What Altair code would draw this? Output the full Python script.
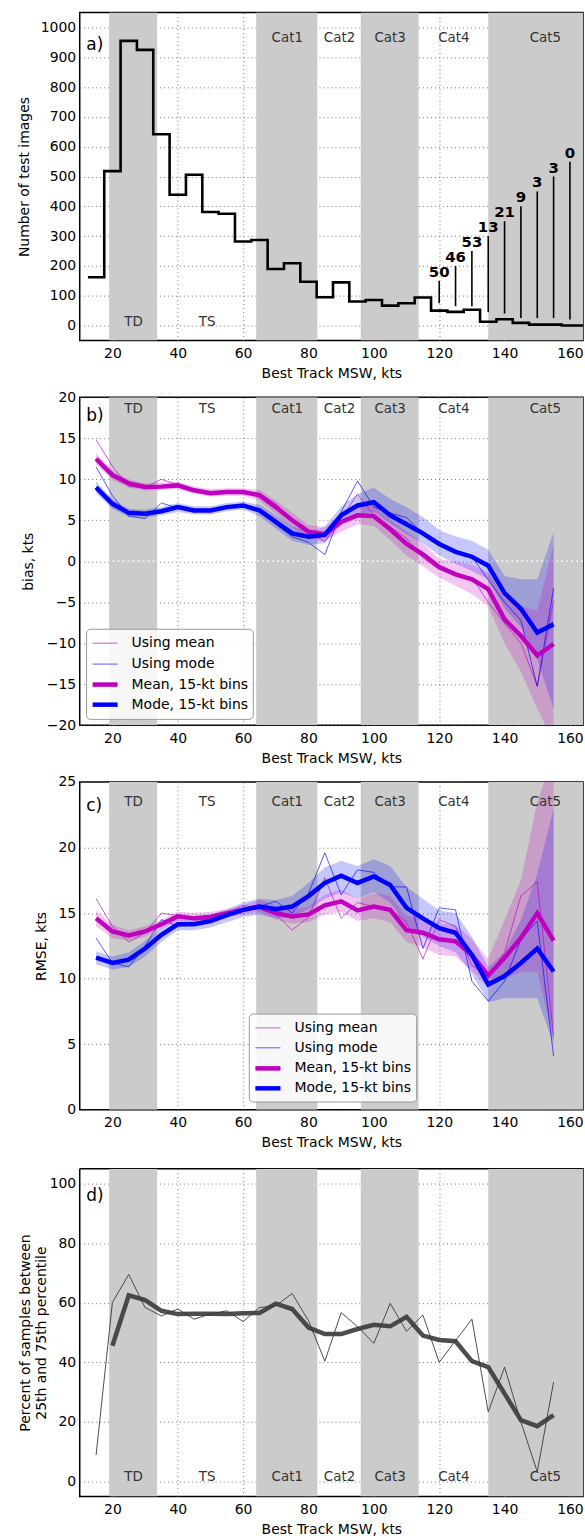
import altair as alt
import pandas as pd

FONT = "DejaVu Sans"
MAG = "#bf00bf"
BLUE = "#0000ff"
GRAY_BAND = "#cbcbcb"
DARK = "#3a3a3a"

W, H = 505, 329
X_DOMAIN = [10, 164]
X_TICKS = [20, 40, 60, 80, 100, 120, 140, 160]

# Saffir-Simpson category shading (kt)
band_lo = [19, 64, 96, 135]
band_hi = [33.7, 82.7, 113.7, 170]
cat_labels = ["TD", "TS", "Cat1", "Cat2", "Cat3", "Cat4", "Cat5"]
cat_centers = [26.5, 49, 73.5, 89.5, 105, 124.5, 152.5]

# ---- panel a: histogram of test images ----
hist_centers = [15, 20, 25, 30, 35, 40, 45, 50, 55, 60, 65, 70, 75, 80, 85, 90,
                95, 100, 105, 110, 115, 120, 125, 130, 135, 140, 145, 150, 155, 160, 165]
hist_counts = [162, 518, 955, 925, 642, 439, 506, 381, 375, 282, 287, 190, 209, 147, 95, 145,
               81, 86, 67, 75, 94, 50, 46, 53, 13, 21, 9, 3, 3, 0, 0]
ann_x = [120, 125, 130, 135, 140, 145, 150, 155, 160]
ann_lo = [75, 65, 65, 45, 40, 25, 25, 25, 20]
ann_hi = [150, 200, 250, 300, 350, 400, 450, 500, 550]
ann_text = ["50", "46", "53", "13", "21", "9", "3", "3", "0"]

# ---- panels b, c, d: x positions ----
msw = [15, 20, 25, 30, 35, 40, 45, 50, 55, 60, 65, 70, 75, 80, 85, 90, 95, 100,
       105, 110, 115, 120, 125, 130, 135, 140, 145, 150, 155]

# panel b: bias
bias_mean_thin = [14.8, 11.6, 9.1, 9.0, 10.0, 9.3, 8.6, 8.3, 8.5, 8.4, 8.3, 7.0, 5.0, 3.4, 2.4,
                  5.2, 8.2, 5.6, 4.2, 2.8, 0.4, -1.0, -1.6, -2.0, -5.0, -7.6, -10.0, -15.2, -4.8]
bias_mode_thin = [11.5, 8.0, 5.5, 5.2, 7.1, 6.5, 6.0, 6.3, 6.5, 6.7, 6.3, 4.5, 3.0, 2.3, 0.8,
                  6.0, 9.8, 6.6, 5.9, 5.3, 3.4, 2.3, 1.0, 0.6, -2.3, -5.0, -7.2, -15.3, -3.3]
bias_mean_bin = [12.5, 10.5, 9.5, 9.05, 9.1, 9.25, 8.65, 8.3, 8.45, 8.45, 8.05, 6.6, 5.0, 3.6, 3.3,
                 4.8, 5.6, 5.5, 3.9, 2.1, 0.85, -0.7, -1.6, -2.2, -3.4, -7.1, -9.1, -11.5, -10.1]
bias_mode_bin = [9.0, 7.0, 5.9, 5.8, 6.1, 6.6, 6.2, 6.2, 6.6, 6.8, 6.2, 4.8, 3.4, 3.0, 3.2,
                 5.6, 6.8, 7.2, 5.6, 4.5, 3.4, 2.1, 1.15, 0.55, -0.55, -3.9, -5.8, -8.7, -7.7]
bias_mean_lo = [11.8, 9.9, 9.0, 8.6, 8.7, 8.8, 8.2, 7.9, 8.0, 8.0, 7.4, 5.8, 4.1, 2.8, 2.4,
                3.6, 4.5, 4.3, 2.6, 0.7, -0.6, -2.0, -3.0, -4.0, -5.5, -10.0, -13.5, -18.0, -22.0]
bias_mean_hi = [13.2, 11.1, 10.0, 9.5, 9.6, 9.7, 9.1, 8.8, 8.9, 8.9, 8.7, 7.4, 5.9, 4.4, 4.2,
                5.6, 6.8, 6.8, 5.1, 3.6, 2.2, 0.3, -0.1, -0.4, -1.4, -4.5, -5.5, -6.0, 2.0]
bias_mode_lo = [8.3, 6.4, 5.4, 5.3, 5.6, 6.0, 5.7, 5.7, 6.1, 6.3, 5.5, 4.0, 2.5, 2.0, 2.2,
                4.5, 5.5, 6.0, 4.6, 3.3, 2.2, 0.7, -0.3, -1.2, -2.2, -5.7, -8.0, -12.0, -18.0]
bias_mode_hi = [9.7, 7.6, 6.4, 6.3, 6.6, 7.1, 6.7, 6.7, 7.1, 7.3, 6.9, 5.6, 4.3, 3.6, 4.2,
                6.7, 8.2, 9.0, 7.6, 6.6, 5.4, 3.8, 3.0, 2.5, 1.4, -1.8, -2.2, -2.2, 3.5]

# panel c: RMSE
rmse_mean_thin = [16.1, 14.0, 12.8, 13.5, 15.0, 14.8, 14.5, 14.6, 15.0, 15.6, 15.3, 14.9, 13.7, 14.7, 17.7,
                  14.6, 15.8, 15.5, 15.3, 14.3, 11.5, 14.5, 14.0, 11.0, 10.2, 12.0, 16.3, 17.4, 5.6]
rmse_mode_thin = [13.1, 11.2, 10.9, 12.5, 14.5, 14.0, 14.2, 14.4, 14.8, 15.2, 15.5, 15.9, 15.0, 16.5, 19.6,
                  16.4, 18.3, 18.1, 17.0, 17.0, 12.3, 15.4, 15.25, 9.8, 8.3, 9.8, 13.0, 14.4, 4.1]
rmse_mean_bin = [14.6, 13.6, 13.3, 13.6, 14.15, 14.75, 14.6, 14.7, 15.0, 15.25, 15.5, 15.0, 14.75, 14.9, 15.6,
                 15.9, 15.2, 15.5, 15.25, 13.7, 13.5, 13.0, 12.85, 11.8, 10.25, 11.6, 13.1, 15.0, 12.9]
rmse_mode_bin = [11.6, 11.2, 11.45, 12.3, 13.35, 14.15, 14.15, 14.4, 14.85, 15.25, 15.5, 15.3, 15.5, 16.3, 17.3,
                 17.85, 17.3, 17.8, 17.15, 15.4, 14.6, 13.85, 13.5, 11.8, 9.55, 10.2, 11.2, 12.3, 10.55]
rmse_mean_lo = [14.0, 13.1, 12.9, 13.2, 13.8, 14.4, 14.3, 14.4, 14.7, 14.9, 15.1, 14.5, 14.2, 14.3, 14.9,
                15.1, 14.4, 14.6, 14.3, 12.8, 12.4, 11.8, 11.7, 10.6, 9.3, 10.0, 10.5, 10.5, 5.5]
rmse_mean_hi = [15.2, 14.1, 13.7, 14.0, 14.5, 15.1, 15.0, 15.1, 15.3, 15.6, 16.0, 15.6, 15.3, 15.5, 16.4,
                16.8, 16.1, 16.5, 16.3, 14.8, 14.6, 14.2, 14.1, 13.0, 11.5, 14.5, 17.5, 23.5, 27.0]
rmse_mode_lo = [11.1, 10.7, 10.9, 11.7, 12.8, 13.7, 13.7, 13.9, 14.3, 14.7, 14.9, 14.6, 14.7, 15.3, 16.1,
                16.6, 16.1, 16.6, 15.8, 14.0, 13.2, 12.5, 12.0, 10.4, 8.2, 8.5, 8.5, 8.5, 5.0]
rmse_mode_hi = [12.1, 11.7, 12.0, 12.9, 13.9, 14.6, 14.6, 14.9, 15.3, 15.8, 16.1, 16.0, 16.3, 17.3, 18.5,
                19.0, 18.6, 19.1, 18.6, 17.0, 16.1, 15.2, 15.0, 13.2, 10.9, 12.0, 14.5, 18.0, 23.0]

# panel d: percent between 25th and 75th percentile
pct_thin = [8.9, 60.1, 69.5, 58.4, 55.6, 57.9, 54.5, 56.2, 57.3, 53.7, 58.4, 59.0, 63.1, 54.0, 40.4,
            56.7, 52.0, 46.4, 59.8, 50.4, 55.9, 40.0, 47.3, 54.5, 23.4, 38.4, 20.0, 3.3, 33.4]
msw_bin = [20, 25, 30, 35, 40, 45, 50, 55, 60, 65, 70, 75, 80, 85, 90, 95, 100,
           105, 110, 115, 120, 125, 130, 135, 140, 145, 150, 155]
pct_bin = [45.6, 62.5, 60.9, 57.3, 56.2, 56.3, 56.3, 56.2, 56.5, 56.6, 59.7, 57.9, 51.7, 49.5,
           49.5, 51.2, 52.6, 52.1, 55.3, 49.0, 47.5, 47.1, 40.4, 38.4, 29.5, 20.6, 18.6, 22.3]

SERIES = ["Using mean", "Using mode", "Mean, 15-kt bins", "Mode, 15-kt bins"]
# legend box placement (data coordinates of each panel): x-left, x-right, y-top, y-bottom
leg_b_box = [12.1, 63.1, -8.3, -19.3]
leg_b_rows = [-10.0, -12.55, -15.05, -17.5]
leg_c_box = [61.9, 113.1, 7.3, 0.6]
leg_c_rows = [6.25, 4.73, 3.16, 1.64]

bands_df = pd.DataFrame({"lo": band_lo, "hi": band_hi})
XSCALE = alt.Scale(domain=X_DOMAIN, nice=False, zero=False)
XAXIS = alt.Axis(values=X_TICKS, title="Best Track MSW, kts")
COLOR = alt.Color("series:N", scale=alt.Scale(domain=SERIES, range=[MAG, BLUE, MAG, BLUE]),
                  legend=None)


def X(field):
    return alt.X(field, type="quantitative", scale=XSCALE, axis=XAXIS)


def make_y(field, dom, ticks, title, title_x):
    return alt.Y(field, type="quantitative",
                 scale=alt.Scale(domain=dom, nice=False, zero=False),
                 axis=alt.Axis(values=ticks, title=title, titleX=title_x, format="d",
                               titleBaseline="middle"))


def common_layers(Y, cat_y, letter, letter_y):
    bands = alt.Chart(bands_df).mark_rect(color=GRAY_BAND, clip=True).encode(
        x=X("lo"), x2="hi")
    cats = alt.Chart(pd.DataFrame({"x": cat_centers, "y": cat_y, "t": cat_labels})).mark_text(
        font=FONT, fontSize=13.5, color="#333333", baseline="middle").encode(
        x=X("x"), y=Y("y"), text="t:N")
    let = alt.Chart(pd.DataFrame({"x": [12], "y": [letter_y], "t": [letter]})).mark_text(
        font=FONT, fontSize=17, color="black", align="left", baseline="middle").encode(
        x=X("x"), y=Y("y"), text="t:N")
    return bands, cats, let


# ---------------- panel a ----------------
Ya = lambda f: make_y(f, [-50, 1050], list(range(0, 1001, 100)), "Number of test images", -55)
edges = [c - 2.5 for c in hist_centers] + [hist_centers[-1] + 2.5]
hist_df = pd.DataFrame({"x": edges, "n": hist_counts + [hist_counts[-1]]})
ba, ca, la = common_layers(Ya, [11, 11, 966, 966, 966, 966, 966], "a)", 941)
hist = alt.Chart(hist_df).mark_line(interpolate="step-after", color="black",
                                    strokeWidth=2.6, clip=True).encode(x=X("x"), y=Ya("n"))
ann_df = pd.DataFrame({"x": ann_x, "lo": ann_lo, "hi": ann_hi, "t": ann_text})
ann_rules = alt.Chart(ann_df).mark_rule(color="black", strokeWidth=1.6).encode(
    x=X("x"), y=Ya("lo"), y2="hi")
ann_txt = alt.Chart(ann_df).mark_text(font=FONT, fontSize=15, fontWeight="bold",
                                      baseline="alphabetic", dy=-4, color="black").encode(
    x=X("x"), y=Ya("hi"), text="t:N")
panel_a = alt.layer(ba, hist, ann_rules, ann_txt, ca, la).properties(width=W, height=H)


def long_df(x, cols):
    rows = []
    for name, vals in cols:
        for xi, v in zip(x, vals):
            rows.append({"x": xi, "v": v, "series": name})
    return pd.DataFrame(rows)


def legend_layers(Y, box, rows):
    x0, x1, yt, yb = box
    span = x1 - x0
    frame = alt.Chart(pd.DataFrame({"x0": [x0], "x1": [x1], "yt": [yt], "yb": [yb]})).mark_rect(
        fill="white", fillOpacity=0.85, stroke="#9a9a9a", strokeWidth=1, cornerRadius=4).encode(
        x=X("x0"), x2="x1", y=Y("yt"), y2="yb")
    sx0 = x0 + span * 0.036
    sx1 = x0 + span * 0.186
    tx = x0 + span * 0.27
    ldf = pd.DataFrame({"series": SERIES, "y": rows, "sx0": [sx0] * 4, "sx1": [sx1] * 4,
                        "tx": [tx] * 4})
    thin = alt.Chart(ldf).transform_filter(
        alt.FieldOneOfPredicate(field="series", oneOf=SERIES[:2])).mark_rule(
        strokeWidth=1, opacity=0.65).encode(x=X("sx0"), x2="sx1", y=Y("y"), color=COLOR)
    thick = alt.Chart(ldf).transform_filter(
        alt.FieldOneOfPredicate(field="series", oneOf=SERIES[2:])).mark_rule(
        strokeWidth=4.5).encode(x=X("sx0"), x2="sx1", y=Y("y"), color=COLOR)
    txt = alt.Chart(ldf).mark_text(font=FONT, fontSize=14, align="left", baseline="middle",
                                   color="black").encode(x=X("tx"), y=Y("y"), text="series:N")
    return [frame, thin, thick, txt]


def line_panel(Y, thin_mean, thin_mode, bin_mean, bin_mode, mlo, mhi, dlo, dhi,
               cat_y, letter, letter_y, box, rows, zero_line=False):
    b, c, l = common_layers(Y, cat_y, letter, letter_y)
    band_df = pd.DataFrame({"x": msw, "mlo": mlo, "mhi": mhi, "dlo": dlo, "dhi": dhi})
    area_mode = alt.Chart(band_df).mark_area(color=BLUE, opacity=0.22, clip=True).encode(
        x=X("x"), y=Y("dlo"), y2="dhi")
    area_mean = alt.Chart(band_df).mark_area(color=MAG, opacity=0.22, clip=True).encode(
        x=X("x"), y=Y("mlo"), y2="mhi")
    thin = alt.Chart(long_df(msw, [(SERIES[0], thin_mean), (SERIES[1], thin_mode)])).mark_line(
        clip=True, strokeWidth=1, opacity=0.65).encode(x=X("x"), y=Y("v"), color=COLOR)
    thick = alt.Chart(long_df(msw, [(SERIES[2], bin_mean), (SERIES[3], bin_mode)])).mark_line(
        clip=True, strokeWidth=4.5).encode(x=X("x"), y=Y("v"), color=COLOR)
    layers = [b]
    if zero_line:
        zl = alt.Chart(pd.DataFrame({"y": [0]})).mark_rule(
            color="white", strokeDash=[2, 3], strokeWidth=1.2).encode(y=Y("y"))
        layers.append(zl)
    layers += [area_mode, area_mean, thin, thick, c, l] + legend_layers(Y, box, rows)
    return alt.layer(*layers).properties(width=W, height=H)


Yb = lambda f: make_y(f, [-20, 20], list(range(-20, 21, 5)), "bias, kts", -51)
panel_b = line_panel(Yb, bias_mean_thin, bias_mode_thin, bias_mean_bin, bias_mode_bin,
                     bias_mean_lo, bias_mean_hi, bias_mode_lo, bias_mode_hi,
                     [18.6] * 7, "b)", 17.7, leg_b_box, leg_b_rows, zero_line=True)

Yc = lambda f: make_y(f, [0, 25], list(range(0, 26, 5)), "RMSE, kts", -38)
panel_c = line_panel(Yc, rmse_mean_thin, rmse_mode_thin, rmse_mean_bin, rmse_mode_bin,
                     rmse_mean_lo, rmse_mean_hi, rmse_mode_lo, rmse_mode_hi,
                     [23.46] * 7, "c)", 23.2, leg_c_box, leg_c_rows)

# ---------------- panel d ----------------
Yd = lambda f: make_y(f, [-5, 105], list(range(0, 101, 20)),
                      ["Percent of samples between", "25th and 75th percentile"], -54)
bd, cd, ld = common_layers(Yd, [1.7] * 7, "d)", 95.7)
d_thin = alt.Chart(pd.DataFrame({"x": msw, "v": pct_thin})).mark_line(
    color=DARK, strokeWidth=1, opacity=0.9).encode(x=X("x"), y=Yd("v"))
d_thick = alt.Chart(pd.DataFrame({"x": msw_bin, "v": pct_bin})).mark_line(
    color=DARK, strokeWidth=4.5, opacity=0.9).encode(x=X("x"), y=Yd("v"))
# white (invisible) spacer above the frame so the gap above panel d matches the others
d_spacer = alt.Chart(pd.DataFrame({"y": [105.0], "y2": [107.7]})).mark_rule(
    color="white", strokeWidth=1, clip=False).encode(
    x=alt.datum(X_DOMAIN[0], type="quantitative"), y=Yd("y"), y2="y2")
panel_d = alt.layer(bd, d_thin, d_thick, cd, ld, d_spacer).properties(width=W, height=H)

chart = alt.vconcat(panel_a, panel_b, panel_c, panel_d, spacing=8).properties(
    padding={"left": 17, "top": 9, "right": 0, "bottom": 0},
    background="white"
).configure_view(
    stroke="black", strokeWidth=1.5
).configure_axis(
    labelFont=FONT, titleFont=FONT, labelFontSize=14, titleFontSize=14,
    labelColor="black", titleColor="black", titleFontWeight="normal",
    grid=True, gridColor="#555555", gridDash=[1, 3], gridOpacity=0.8, gridWidth=1,
    ticks=False, tickSize=0, domain=False, zindex=1, titleLineHeight=16
).configure_axisX(
    labelPadding=6, titlePadding=6
).configure_axisY(
    labelPadding=4
)

chart.save("out.html", embed_options={"renderer": "svg", "actions": False})
